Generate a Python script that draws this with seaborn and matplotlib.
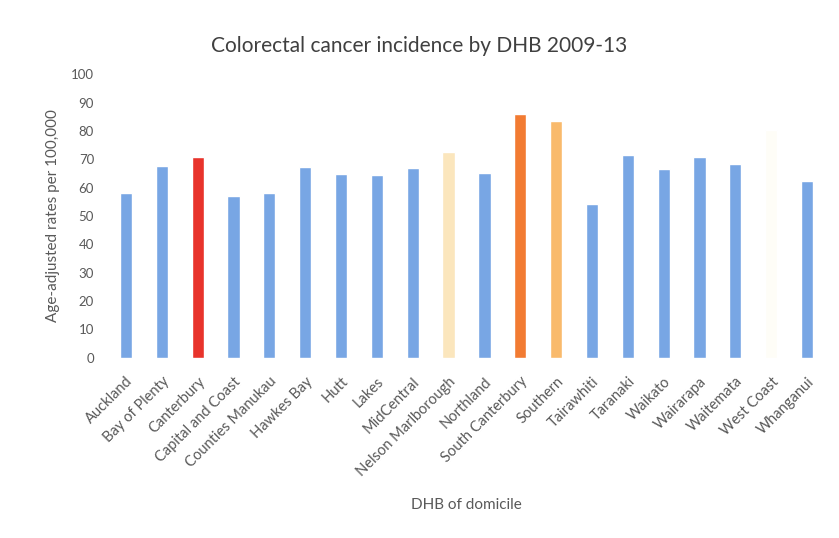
import pandas as pd
import matplotlib.pyplot as plt
import seaborn as sns

# DHB incidence values
dhbs = ['Auckland', 'Bay of Plenty', 'Canterbury', 'Capital and Coast', 'Counties Manukau',
        'Hawkes Bay', 'Hutt', 'Lakes', 'MidCentral', 'Nelson Marlborough', 'Northland',
        'South Canterbury', 'Southern', 'Tairawhiti', 'Taranaki', 'Waikato', 'Wairarapa',
        'Waitemata', 'West Coast', 'Whanganui']
rates = [58.2, 67.6, 70.7, 57.1, 58.0, 67.4, 64.8, 64.4, 66.8, 72.7, 65.1,
         86.0, 83.6, 54.2, 71.5, 66.6, 70.7, 68.2, 80.3, 62.3]
y_ticks = [0, 10, 20, 30, 40, 50, 60, 70, 80, 90, 100]

BLUE = '#78a6e4'
highlight = {
    'Canterbury': '#e8332b',
    'Nelson Marlborough': '#fbe6bd',
    'South Canterbury': '#f27b32',
    'Southern': '#f9ba6c',
    'West Coast': '#fefdf7',
}
palette = {d: highlight.get(d, BLUE) for d in dhbs}

df = pd.DataFrame({'DHB': dhbs, 'rate': rates})

sns.set_style("white")
plt.rcParams['font.family'] = ['Lato', 'DejaVu Sans']

fig = plt.figure(figsize=(8.39, 5.38), dpi=100)
ax = fig.add_axes([0.1287, 0.3351, 0.8546, 0.5268])

sns.barplot(data=df, x='DHB', y='rate', hue='DHB', palette=palette,
            legend=False, width=0.34, ax=ax, saturation=1)

ax.set_ylim(0, 100)
ax.set_xlim(-0.5, len(dhbs) - 0.5)
ax.set_yticks(y_ticks)
ax.set_yticklabels([str(t) for t in y_ticks], fontsize=9.5, color='#595959')
ax.set_xticks(range(len(dhbs)))
ax.set_xticklabels(dhbs, rotation=45, ha='right', rotation_mode='anchor',
                   fontsize=10.5, color='#595959')
ax.tick_params(axis='y', length=0, pad=10)
ax.tick_params(axis='x', length=0, pad=12)
sns.despine(ax=ax, left=True, bottom=True)

ax.set_xlabel('DHB of domicile', fontsize=11, color='#595959', labelpad=14)
ax.set_ylabel('Age-adjusted rates per 100,000', fontsize=11, color='#595959', labelpad=8)
fig.text(0.5, 0.915, 'Colorectal cancer incidence by DHB 2009-13', ha='center', va='center',
         fontsize=15, color='#404040')

fig.savefig('out.png', dpi=100)
